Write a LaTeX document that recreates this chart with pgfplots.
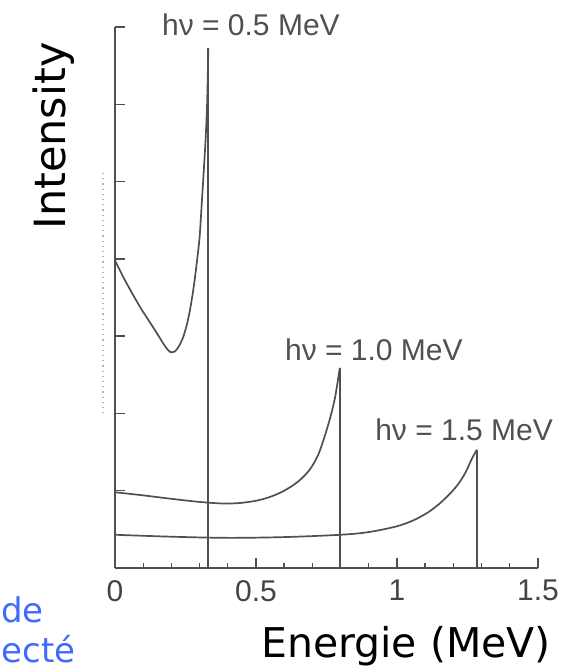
\documentclass[border=0pt]{standalone}
\usepackage{fontspec}
\setmainfont{DejaVu Sans}
\newfontfamily\helv{Liberation Sans}
\usepackage{pgfplots}
\pgfplotsset{compat=1.18}
\definecolor{ink}{HTML}{505050}
\definecolor{slideblue}{HTML}{3F6BFF}

\begin{document}
\begin{tikzpicture}
\useasboundingbox (0,0) rectangle (280.5pt,335.5pt);
\begin{axis}[
    at={(57.5pt,51.5pt)}, anchor=south west,
    scale only axis, width=211.5pt, height=270.5pt,
    xmin=0, xmax=1.5, ymin=0, ymax=7,
    axis x line*=bottom, axis y line*=left,
    axis line style={ink, line width=0.8pt, -},
    xtick={0,0.5,1,1.5}, xticklabels={0,0.5,1,1.5},
    minor x tick num=4,
    ytick={1,...,7}, yticklabels={},
    tick align=inside,
    major tick length=5pt, minor tick length=2.5pt,
    tick style={ink, line width=0.7pt},
    xticklabel style={font=\helv\fontsize{15}{15}\selectfont, text=ink!85!black, yshift=-2.5pt},
    clip=false,
]
% hv = 0.5 MeV
\addplot[ink, line width=0.85pt, smooth, tension=0.5] coordinates {
 (0,3.98) (0.03,3.76) (0.06,3.56) (0.09,3.37) (0.12,3.2) (0.15,3.03)
 (0.172,2.9) (0.188,2.82) (0.20,2.79) (0.212,2.8) (0.225,2.86) (0.24,2.97)
 (0.255,3.15) (0.268,3.38) (0.28,3.66) (0.29,3.95) (0.3,4.28) (0.307,4.68)
 (0.315,5.15) (0.322,5.6) (0.327,6.05) (0.331,6.73)
};
\addplot[ink, line width=1pt] coordinates {(0.331,6.73) (0.331,0)};

% hv = 1.0 MeV
\addplot[ink, line width=0.85pt, smooth, tension=0.5] coordinates {
 (0,0.98) (0.1,0.94) (0.2,0.895) (0.3,0.855) (0.38,0.835) (0.44,0.84)
 (0.5,0.87) (0.55,0.92) (0.6,1.0) (0.65,1.12) (0.69,1.27) (0.72,1.46)
 (0.745,1.72) (0.765,1.97) (0.78,2.2) (0.79,2.42) (0.797,2.59)
};
\addplot[ink, line width=0.85pt] coordinates {(0.797,2.59) (0.797,0)};

% hv = 1.5 MeV
\addplot[ink, line width=0.85pt, smooth, tension=0.5] coordinates {
 (0,0.43) (0.2,0.405) (0.4,0.39) (0.6,0.40) (0.8,0.43) (0.9,0.465)
 (1.0,0.54) (1.06,0.62) (1.11,0.72) (1.15,0.83) (1.19,0.97) (1.22,1.1)
 (1.245,1.25) (1.265,1.41) (1.283,1.53)
};
\addplot[ink, line width=0.85pt] coordinates {(1.283,1.53) (1.283,0)};

\node[font=\helv\fontsize{15}{15}\selectfont, text=ink, anchor=base] at (axis cs:0.482,6.895) {hν = 0.5 MeV};
\node[font=\helv\fontsize{15}{15}\selectfont, text=ink, anchor=base] at (axis cs:0.918,2.69) {hν = 1.0 MeV};
\node[font=\helv\fontsize{15}{15}\selectfont, text=ink, anchor=base] at (axis cs:1.238,1.656) {hν = 1.5 MeV};
\end{axis}

\draw[gray!60, dotted, line width=0.6pt] (51.5pt,249pt) -- (51.5pt,129pt);
\node[rotate=90, anchor=base, font=\fontsize{21.5}{22}\selectfont] at (32.5pt,267.5pt) {Intensity};
\node[anchor=base, font=\fontsize{20.5}{21}\selectfont] at (203pt,6.5pt) {Energie (MeV)};
\node[anchor=base west, inner sep=0pt, text=slideblue, font=\fontsize{17}{17}\selectfont] at (0.5pt,24pt) {de};
\node[anchor=base west, inner sep=0pt, text=slideblue, font=\fontsize{17}{17}\selectfont] at (0.5pt,4.5pt) {ecté};
\end{tikzpicture}
\end{document}
